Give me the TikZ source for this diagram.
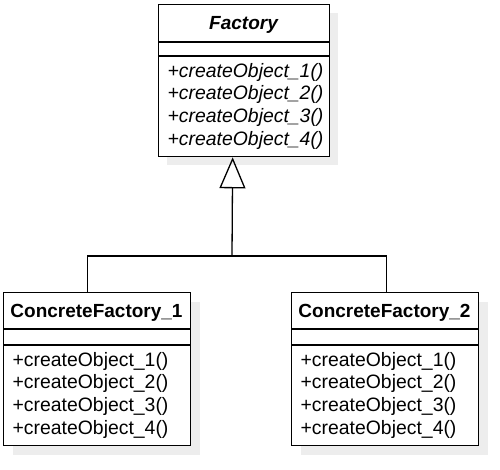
\documentclass[tikz,border=0pt]{standalone}
\usepackage{fontspec}
\setmainfont{Liberation Sans}
\usetikzlibrary{arrows.meta}
\begin{document}
\begin{tikzpicture}[x=1pt,y=-1pt, line width=1.3pt,
  umlbox/.style={draw, fill=white, rectangle, inner sep=0pt, anchor=north west},
  shadowfill/.style={fill=black!7, draw=none},
  umltitle/.style={anchor=base, inner sep=0pt, font=\bfseries\fontsize{19}{23}\selectfont},
  umlitaltitle/.style={anchor=base, inner sep=0pt, font=\bfseries\itshape\fontsize{19}{23}\selectfont},
  meth/.style={anchor=base west, inner sep=0pt, font=\fontsize{19.4}{23}\selectfont},
  absmeth/.style={anchor=base west, inner sep=0pt, font=\itshape\fontsize{19.4}{23}\selectfont},
  inherit/.style={-{Triangle[open,length=31pt,width=26pt,line width=1.3pt]}}]
\useasboundingbox (0,0) rectangle (500,469);
% shadows
\fill[shadowfill] (167,13) rectangle (338,165);
\fill[shadowfill] (13,302) rectangle (200,455);
\fill[shadowfill] (301,302) rectangle (488,455);
% Factory
\node[umlbox, minimum width=171pt, minimum height=152pt] (factory) at (158,4) {};
\draw ([yshift=-38pt]factory.north west) -- ([yshift=-38pt]factory.north east);
\draw ([yshift=-52pt]factory.north west) -- ([yshift=-52pt]factory.north east);
\node[umlitaltitle] (ftitle) at (243.5,29) {Factory};
\node[absmeth] (f1) at (167,77) {+createObject\_1()};
\node[absmeth] (f2) at (167,99.7) {+createObject\_2()};
\node[absmeth] (f3) at (167,122.4) {+createObject\_3()};
\node[absmeth] (f4) at (167,145.1) {+createObject\_4()};
% ConcreteFactory_1
\node[umlbox, minimum width=187pt, minimum height=153pt] (cf1) at (3,292) {};
\draw ([yshift=-37pt]cf1.north west) -- ([yshift=-37pt]cf1.north east);
\draw ([yshift=-53pt]cf1.north west) -- ([yshift=-53pt]cf1.north east);
\node[umltitle] (c1title) at (96.5,317) {ConcreteFactory\_1};
\node[meth] (a1) at (12,366) {+createObject\_1()};
\node[meth] (a2) at (12,388.7) {+createObject\_2()};
\node[meth] (a3) at (12,411.4) {+createObject\_3()};
\node[meth] (a4) at (12,434.1) {+createObject\_4()};
% ConcreteFactory_2
\node[umlbox, minimum width=187pt, minimum height=153pt] (cf2) at (291,292) {};
\draw ([yshift=-37pt]cf2.north west) -- ([yshift=-37pt]cf2.north east);
\draw ([yshift=-53pt]cf2.north west) -- ([yshift=-53pt]cf2.north east);
\node[umltitle] (c2title) at (384.5,317) {ConcreteFactory\_2};
\node[meth] (b1) at (300,366) {+createObject\_1()};
\node[meth] (b2) at (300,388.7) {+createObject\_2()};
\node[meth] (b3) at (300,411.4) {+createObject\_3()};
\node[meth] (b4) at (300,434.1) {+createObject\_4()};
% inheritance
\coordinate (j) at (232,256);
\draw ([xshift=-9.5pt]cf1.north) |- (j) -| ([xshift=1.5pt]cf2.north);
\draw[inherit] (j) -- ([xshift=-11.5pt]factory.south);
\end{tikzpicture}
\end{document}
